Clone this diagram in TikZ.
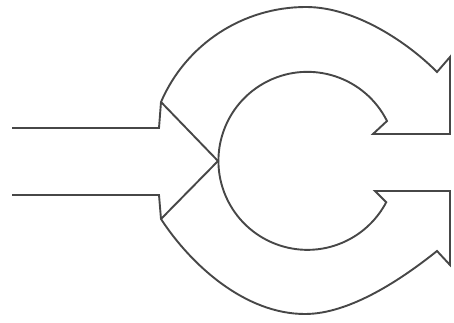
\documentclass[tikz,border=0pt]{standalone}
\begin{document}
\begin{tikzpicture}[x=1pt,y=-1pt,
  outline/.style={draw=black!72,line width=1.9pt,line join=miter}]
\useasboundingbox (0,0) rectangle (454,323);
\coordinate (tl) at (161,102);
\coordinate (bl) at (161,219);
\coordinate (mid) at (218,161);
\draw[outline] (12,128) -- (159,128) -- (tl)
  .. controls (186,44) and (243,7) .. (306,7)
  .. controls (356,7) and (409,43.6) .. (437,72)
  -- (450,57) -- (450,134) -- (373,134) -- (387,121)
  arc[start angle=-26.6,end angle=-332.3,radius=89]
  -- (375,191) -- (450,191) -- (450,265) -- (437,251)
  .. controls (402,279) and (350,314) .. (305,314)
  .. controls (245,314) and (191,265) .. (bl)
  -- (159,195) -- (12,195);
\draw[outline] (tl) -- (mid) -- (bl);
\end{tikzpicture}
\end{document}
